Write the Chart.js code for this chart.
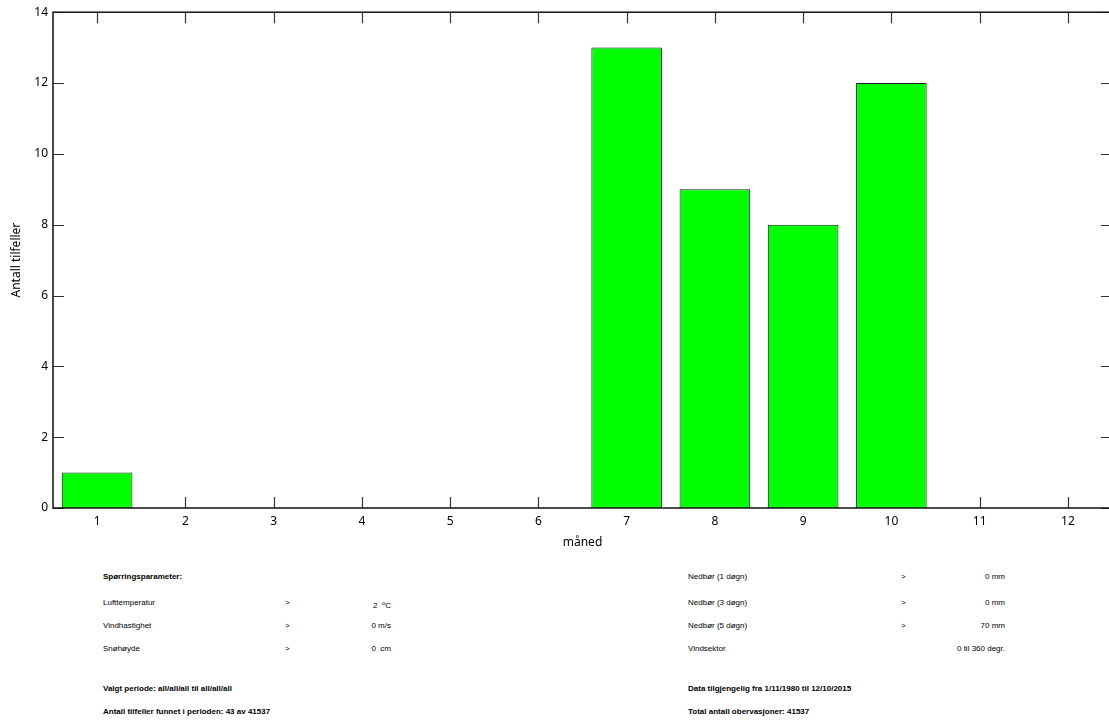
<!DOCTYPE html>
<html>
<head>
<meta charset="utf-8">
<script src="https://cdn.jsdelivr.net/npm/chart.js@4.4.0/dist/chart.umd.min.js"></script>
<style>
  html, body { margin: 0; padding: 0; background: #fff; overflow: hidden; }
  #wrap { position: relative; width: 1109px; height: 720px; overflow: hidden; }
  #c { position: absolute; left: 0; top: 0; }
  .t { position: absolute; font-family: "Liberation Sans", Arial, sans-serif; font-size: 8px; color: #000; white-space: nowrap; line-height: 10px; }
  .b { font-weight: bold; }
  .r { text-align: right; }
</style>
</head>
<body>
<div id="wrap">
  <canvas id="c" width="1112" height="560"></canvas>

  <div class="t b" style="left:103px;top:572px">Spørringsparameter:</div>
  <div class="t" style="left:103px;top:598px">Lufttemperatur</div>
  <div class="t" style="left:285px;top:598px">&gt;</div>
  <div class="t r" style="left:330px;width:61px;top:598px">2&nbsp; <sup style="font-size:6px;vertical-align:3px">o</sup>C</div>
  <div class="t" style="left:103px;top:621px">Vindhastighet</div>
  <div class="t" style="left:285px;top:621px">&gt;</div>
  <div class="t r" style="left:330px;width:61px;top:621px">0 m/s</div>
  <div class="t" style="left:103px;top:644px">Snøhøyde</div>
  <div class="t" style="left:285px;top:644px">&gt;</div>
  <div class="t r" style="left:330px;width:61px;top:644px">0&nbsp; cm</div>
  <div class="t b" style="left:103px;top:684px">Valgt periode: all/all/all til all/all/all</div>
  <div class="t b" style="left:103px;top:707px">Antall tilfeller funnet i perioden: 43 av 41537</div>

  <div class="t" style="left:688px;top:572px">Nedbør (1 døgn)</div>
  <div class="t" style="left:901px;top:572px">&gt;</div>
  <div class="t r" style="left:905px;width:100px;top:572px">0 mm</div>
  <div class="t" style="left:688px;top:598px">Nedbør (3 døgn)</div>
  <div class="t" style="left:901px;top:598px">&gt;</div>
  <div class="t r" style="left:905px;width:100px;top:598px">0 mm</div>
  <div class="t" style="left:688px;top:621px">Nedbør (5 døgn)</div>
  <div class="t" style="left:901px;top:621px">&gt;</div>
  <div class="t r" style="left:905px;width:100px;top:621px">70 mm</div>
  <div class="t" style="left:688px;top:644px">Vindsektor</div>
  <div class="t r" style="left:905px;width:100px;top:644px">0 til 360 degr.</div>
  <div class="t b" style="left:688px;top:684px">Data tilgjengelig fra 1/11/1980 til 12/10/2015</div>
  <div class="t b" style="left:688px;top:707px">Total antall obervasjoner: 41537</div>
</div>

<script>
'use strict';

// months and number of cases per month
var months = ['1', '2', '3', '4', '5', '6', '7', '8', '9', '10', '11', '12'];
var counts = [1, 0, 0, 0, 0, 0, 13, 9, 8, 12, 0, 0];
var yTicks = [0, 2, 4, 6, 8, 10, 12, 14];

// frame round the plot + small inward ticks on all four sides
var frameTicks = {
  id: 'frameTicks',
  beforeDatasetsDraw: function(chart) {
    var ctx = chart.ctx;
    var a = chart.chartArea;
    var x = chart.scales.x;
    var y = chart.scales.y;
    ctx.save();
    ctx.strokeStyle = '#333';
    ctx.lineWidth = 1.2;
    ctx.beginPath();
    for (var i = 0; i < months.length; i++) {
      var px = Math.round(x.getPixelForValue(i)) + 0.5;
      ctx.moveTo(px, a.bottom); ctx.lineTo(px, a.bottom - 11);
      ctx.moveTo(px, a.top); ctx.lineTo(px, a.top + 11);
    }
    for (var j = 0; j < yTicks.length; j++) {
      var py = Math.round(y.getPixelForValue(yTicks[j])) + 0.5;
      ctx.moveTo(a.left, py); ctx.lineTo(a.left + 11, py);
      ctx.moveTo(a.right, py); ctx.lineTo(a.right - 11, py);
    }
    ctx.stroke();
    ctx.restore();
  },
  afterDraw: function(chart) {
    var ctx = chart.ctx;
    var a = chart.chartArea;
    ctx.save();
    ctx.strokeStyle = '#111';
    ctx.lineWidth = 1.5;
    ctx.strokeRect(a.left, a.top, a.right - a.left, a.bottom - a.top);
    ctx.restore();
  }
};

var ctx = document.getElementById('c').getContext('2d');
var chart = new Chart(ctx, {
  type: 'bar',
  data: {
    labels: months,
    datasets: [{
      data: counts,
      backgroundColor: '#00ff00',
      borderColor: '#222',
      borderWidth: 1,
      barPercentage: 0.8,
      categoryPercentage: 1.0
    }]
  },
  options: {
    responsive: false,
    animation: false,
    layout: { padding: { top: 12, right: 0, left: 0, bottom: 0 } },
    plugins: { legend: { display: false }, tooltip: { enabled: false } },
    scales: {
      x: {
        grid: { display: false, drawTicks: false },
        border: { display: false },
        ticks: { color: '#000', padding: 6, font: { family: 'Noto Sans', size: 12 } },
        title: { display: true, text: 'måned', color: '#000', padding: { top: 0, bottom: 10 }, font: { family: 'Noto Sans', size: 12 } },
        afterFit: function(s) { s.height = 52; }
      },
      y: {
        min: 0,
        max: 14,
        grid: { display: false, drawTicks: false },
        border: { display: false },
        ticks: { stepSize: 2, color: '#000', padding: 5, font: { family: 'Noto Sans', size: 12 } },
        title: { display: true, text: 'Antall tilfeller', color: '#000', padding: { top: 9, bottom: 0 }, font: { family: 'Noto Sans', size: 12 } },
        afterFit: function(s) { s.width = 53; }
      }
    }
  },
  plugins: [frameTicks]
});
</script>
</body>
</html>
